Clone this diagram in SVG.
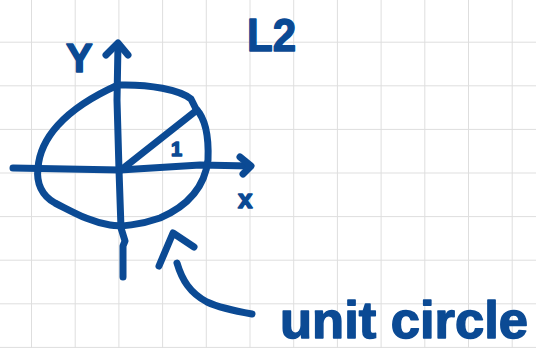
<svg xmlns="http://www.w3.org/2000/svg" width="536" height="348" viewBox="0 0 536 348">
  <style>
    .ink { fill: none; stroke: #0b4a94; stroke-width: 7; stroke-linecap: round; stroke-linejoin: round; }
    .txt { fill: #0b4a94; stroke: #0b4a94; stroke-width: 1.5; stroke-linejoin: round; font-family: "Liberation Sans", Arial, sans-serif; font-weight: bold; }
  </style>
  <defs>
    <pattern id="grid" patternUnits="userSpaceOnUse" x="31" y="41.7" width="43.7" height="43.6">
      <path d="M0 0 H43.7 M0 0 V43.6" fill="none" stroke="#dedede" stroke-width="2"/>
    </pattern>
  </defs>
  <rect width="536" height="348" fill="#ffffff"/>
  <rect width="536" height="348" fill="url(#grid)"/>

  <g id="y-axis">
    <path class="ink" d="M123 277 L123 246 L125 241 L121 228 L119 170 L117 100 L118 44"/>
    <path class="ink" d="M106 55 L118 43 L128 55"/>
  </g>
  <g id="x-axis">
    <path class="ink" d="M13 168 L120 170 L200 165 L250 166"/>
    <path class="ink" d="M240 157 L251 166 L243 174"/>
  </g>
  <g id="circle">
    <path class="ink" d="M118 85 C150 84 180 90 191 99 L196 109 C205 118 209 135 208 160 C205 185 190 205 160 218 C140 225 120 227 110 225 C90 222 75 213 55 203 C42 196 36 183 38 168 C40 140 62 110 118 85 Z"/>
    <path class="ink" d="M121 170 L197 110"/>
  </g>
  <g id="labels">
    <text class="txt" x="66" y="72" font-size="40">Y</text>
    <text class="txt" x="238" y="208" font-size="26">x</text>
    <text class="txt" x="171" y="156" font-size="20">1</text>
    <text class="txt" x="247" y="51" font-size="46" textLength="49" lengthAdjust="spacingAndGlyphs">L2</text>
    <text class="txt" x="280" y="338" font-size="52" textLength="248" lengthAdjust="spacingAndGlyphs">unit circle</text>
  </g>
  <g id="pointer">
    <path class="ink" d="M159 266 L173 233 L194 247"/>
    <path class="ink" d="M177 263 C182 280 190 293 207 302 C220 308 235 311 252 314"/>
  </g>
</svg>
